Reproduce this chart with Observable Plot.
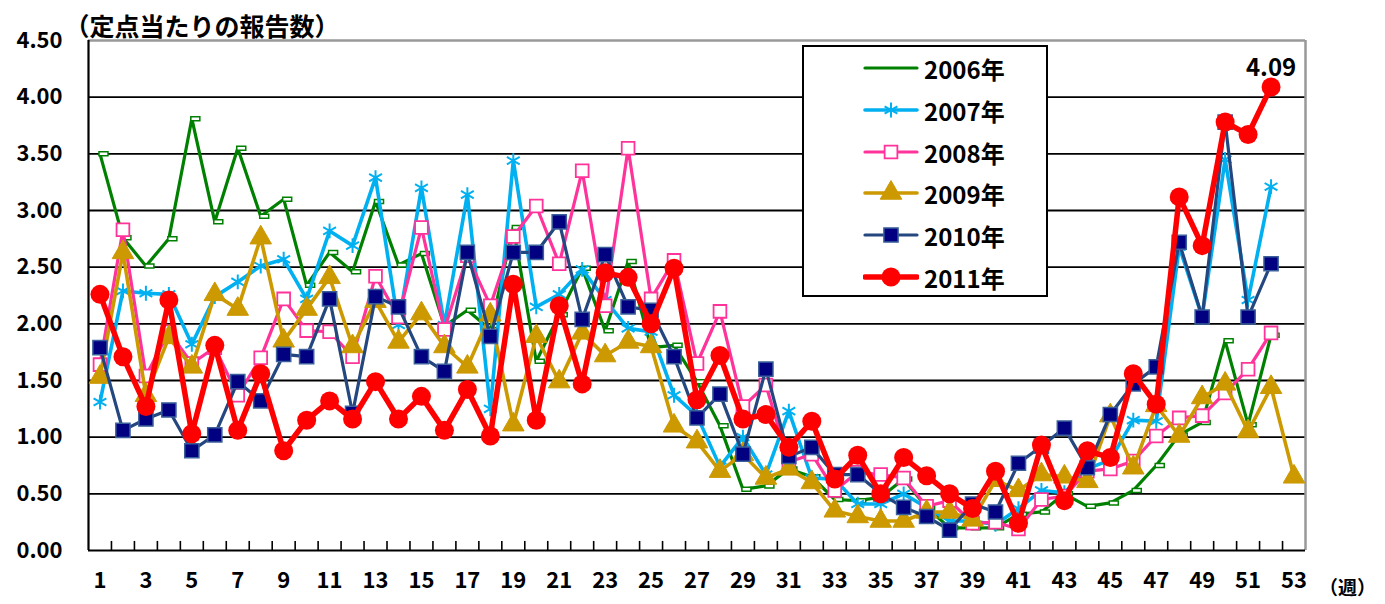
<!DOCTYPE html>
<html><head><meta charset="utf-8">
<script src="https://cdn.jsdelivr.net/npm/d3@7"></script>
<script src="https://cdn.jsdelivr.net/npm/@observablehq/plot@0.6"></script>
<style>
body{margin:0;background:#fff;}
#wrap{position:relative;width:1385px;height:604px;overflow:hidden;}
#legend{position:absolute;left:802px;top:45px;width:242px;height:248px;border:2px solid #000;background:#fff;}
.li{position:absolute;left:0;height:40px;display:flex;align-items:center;}
.li span{font-family:"Noto Sans CJK JP","Liberation Sans",sans-serif;font-weight:bold;font-size:24px;color:#000;margin-left:5px;}
</style></head><body><div id="wrap"><div id="legend"></div></div>
<script>
const weeks = d3.range(1, 54);
const xTickLabels = [1,3,5,7,9,11,13,15,17,19,21,23,25,27,29,31,33,35,37,39,41,43,45,47,49,51,53];
const yTicks = [0,0.5,1,1.5,2,2.5,3,3.5,4,4.5];
const seriesNames = ["2006年","2007年","2008年","2009年","2010年","2011年"];

const v2006 = [3.50,2.76,2.51,2.75,3.81,2.90,3.55,2.95,3.10,2.34,2.63,2.46,3.08,2.52,2.62,1.98,2.12,1.95,2.85,1.67,2.08,2.49,1.94,2.55,1.79,1.81,1.49,1.10,0.54,0.57,0.72,0.65,0.45,0.44,0.47,0.63,0.38,0.20,0.20,0.20,0.32,0.34,0.50,0.39,0.42,0.53,0.75,1.02,1.13,1.85,1.11,1.90];
const v2007 = [1.31,2.29,2.27,2.26,1.82,2.24,2.37,2.51,2.57,2.22,2.82,2.69,3.29,1.99,3.20,1.99,3.14,1.25,3.44,2.15,2.26,2.48,2.21,1.96,1.93,1.37,1.19,0.74,1.00,0.67,1.23,0.64,0.63,0.41,0.41,0.50,0.38,0.26,0.26,0.23,0.37,0.53,0.51,0.72,0.80,1.15,1.14,2.68,2.06,3.45,2.21,3.21];
const v2008 = [1.64,2.83,1.54,1.93,1.65,1.79,1.37,1.70,2.22,1.94,1.93,1.71,2.42,2.06,2.85,1.95,2.60,2.16,2.77,3.04,2.53,3.35,2.16,3.55,2.22,2.56,1.65,2.11,1.27,1.46,0.78,0.85,0.53,0.69,0.67,0.64,0.39,0.44,0.24,0.25,0.19,0.45,0.48,0.70,0.72,0.79,1.01,1.17,1.19,1.39,1.60,1.92];
const v2009 = [1.53,2.63,1.37,1.88,1.62,2.26,2.13,2.76,1.85,2.13,2.41,1.80,2.20,1.84,2.09,1.80,1.62,2.08,1.11,1.89,1.49,1.92,1.72,1.84,1.80,1.10,0.96,0.70,0.85,0.64,0.72,0.60,0.35,0.30,0.26,0.26,0.34,0.34,0.27,0.62,0.53,0.67,0.65,0.61,1.19,0.73,1.28,1.01,1.35,1.47,1.05,1.44,0.65];
const v2010 = [1.79,1.06,1.16,1.24,0.88,1.02,1.49,1.32,1.73,1.71,2.22,1.21,2.24,2.15,1.71,1.58,2.63,1.89,2.63,2.63,2.90,2.04,2.61,2.15,2.12,1.71,1.17,1.38,0.85,1.60,0.83,0.91,0.67,0.67,0.50,0.38,0.30,0.18,0.41,0.34,0.77,0.92,1.08,0.73,1.20,1.47,1.62,2.72,2.06,3.78,2.06,2.53];
const v2011 = [2.26,1.71,1.27,2.21,1.03,1.81,1.06,1.56,0.88,1.15,1.32,1.16,1.49,1.16,1.36,1.06,1.42,1.01,2.35,1.15,2.16,1.47,2.45,2.41,2.00,2.49,1.33,1.72,1.16,1.20,0.91,1.14,0.63,0.84,0.50,0.82,0.66,0.50,0.37,0.70,0.24,0.93,0.44,0.88,0.82,1.56,1.29,3.12,2.69,3.78,3.67,4.09];
const peakLabel = "4.09";

const toRows = (vals, name) => vals.map((v, i) => ({week: weeks[i], value: v, series: name}));
const d2006 = toRows(v2006, seriesNames[0]);
const d2007 = toRows(v2007, seriesNames[1]);
const d2008 = toRows(v2008, seriesNames[2]);
const d2009 = toRows(v2009, seriesNames[3]);
const d2010 = toRows(v2010, seriesNames[4]);
const d2011 = toRows(v2011, seriesNames[5]);

const dashSymbol = {draw(ctx, size) { ctx.rect(-1, -2, 9, 4); }};

const styles = [
  {line: "#008000", w: 3.2, sym: dashSymbol, r: 5, fill: "#fff", stroke: "#008000", sw: 1.5},
  {line: "#00B0F0", w: 3.6, sym: "asterisk", r: 7, fill: "none", stroke: "#00B0F0", sw: 2},
  {line: "#FF3399", w: 3.2, sym: "square", r: 7.2, fill: "#fff", stroke: "#FF3399", sw: 1.8},
  {line: "#CC9900", w: 3.6, sym: "triangle", r: 8, fill: "#CC9900", stroke: "#CC9900", sw: 1},
  {line: "#24477F", w: 3.2, sym: "square", r: 8, fill: "#000080", stroke: "#3A5F9A", sw: 1.5},
  {line: "#FF0000", w: 5.5, sym: "circle", r: 9.5, fill: "#FF0000", stroke: "#FF0000", sw: 0}
];
const datasets = [d2006, d2007, d2008, d2009, d2010, d2011];

const marks = [
  Plot.gridY(yTicks.filter(t => t > 0 && t < 4.5), {stroke: "#000", strokeOpacity: 1, strokeWidth: 1.8}),
  Plot.ruleY([4.5], {stroke: "#999", strokeWidth: 2.5}),
  Plot.ruleX([53.5], {stroke: "#999", strokeWidth: 2.5}),
  Plot.ruleX(d3.range(1.5, 53.5, 1), {y1: 0, y2: 0.08, stroke: "#000", strokeWidth: 1.6}),
  Plot.ruleY([0], {stroke: "#000", strokeWidth: 2.2}),
  Plot.ruleX([0.5], {stroke: "#000", strokeWidth: 2.2}),
  Plot.axisY(yTicks, {label: null, tickFormat: d => d.toFixed(2), tickSize: 0, tickPadding: 26, fontSize: 22, fontWeight: "bold"}),
  Plot.axisX(xTickLabels, {label: null, tickSize: 0, tickPadding: 22, fontSize: 22, fontWeight: "bold"}),
];
datasets.forEach((d, i) => {
  const s = styles[i];
  marks.push(Plot.line(d, {x: "week", y: "value", stroke: s.line, strokeWidth: s.w, strokeLinejoin: "round"}));
  marks.push(Plot.dot(d, {x: "week", y: "value", symbol: s.sym, r: s.r, fill: s.fill, stroke: s.stroke, strokeWidth: s.sw}));
});
marks.push(Plot.text([d2011[d2011.length - 1]], {x: "week", y: "value", text: () => peakLabel, dy: -19, fontSize: 24, fontWeight: "bold", fill: "#000"}));
marks.push(Plot.text(["（定点当たりの報告数）"], {frameAnchor: "top-left", dx: -24, dy: -22, textAnchor: "start", fontSize: 25, fontWeight: "bold", fill: "#000"}));
marks.push(Plot.text(["（週）"], {frameAnchor: "bottom-right", dx: 42, dy: 44, textAnchor: "middle", fontSize: 19, fontWeight: "bold", fill: "#000"}));

const chart = Plot.plot({
  width: 1385, height: 604,
  marginLeft: 88, marginRight: 80, marginTop: 40, marginBottom: 54,
  x: {domain: [0.5, 53.5], axis: null},
  y: {domain: [0, 4.5], axis: null},
  style: {fontFamily: "'Noto Sans CJK JP', 'Liberation Sans', sans-serif", color: "#000", background: "#fff", overflow: "visible"},
  marks
});
document.getElementById("wrap").prepend(chart);
chart.style.position = "absolute"; chart.style.left = "0"; chart.style.top = "0";

// legend
const legend = d3.select("#legend");
const rowTops = [23, 65, 107, 148, 190, 232];
seriesNames.forEach((name, i) => {
  const s = styles[i];
  const row = legend.append("div").attr("class", "li").style("top", (rowTops[i] - 20 - 2) + "px").style("left", "59px");
  const svg = row.append("svg").attr("width", 56).attr("height", 40);
  svg.append("line").attr("x1", 2).attr("x2", 54).attr("y1", 20).attr("y2", 20)
    .attr("stroke", s.line).attr("stroke-width", s.w).attr("stroke-linecap", "round");
  if (i > 0) {
    const symType = {asterisk: d3.symbolAsterisk, square: d3.symbolSquare, triangle: d3.symbolTriangle, circle: d3.symbolCircle}[s.sym];
    svg.append("path").attr("transform", "translate(28,20)")
      .attr("d", d3.symbol(symType, Math.PI * s.r * s.r)())
      .attr("fill", s.fill).attr("stroke", s.stroke).attr("stroke-width", s.sw);
  }
  row.append("span").text(name);
});
</script>
</body></html>
